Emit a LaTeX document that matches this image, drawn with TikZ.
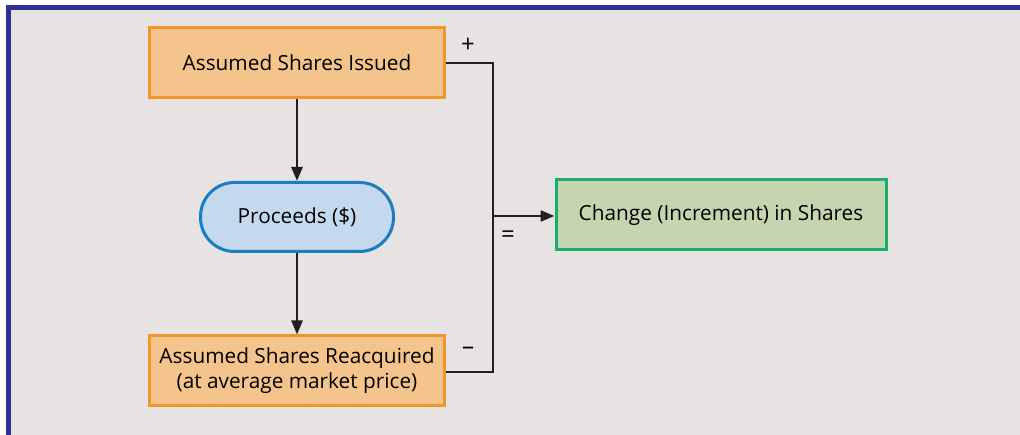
\documentclass[tikz,border=0pt]{standalone}
\usepackage{fontspec}
\setmainfont{Open Sans}
\usetikzlibrary{arrows.meta}
\usetikzlibrary{positioning}
\definecolor{framenavy}{RGB}{46,49,146}
\definecolor{paper}{RGB}{232,227,227}
\definecolor{orangefill}{RGB}{244,196,140}
\definecolor{orangeline}{RGB}{240,150,42}
\definecolor{bluefill}{RGB}{197,217,238}
\definecolor{blueline}{RGB}{26,126,196}
\definecolor{greenfill}{RGB}{197,213,176}
\definecolor{greenline}{RGB}{26,174,110}
\definecolor{wire}{RGB}{35,31,32}

\begin{document}
\begin{tikzpicture}[x=1pt,y=-1pt,
  font=\fontsize{20.8}{24}\selectfont,
  sharebox/.style={draw=orangeline,fill=orangefill,line width=3pt,minimum width=295pt,minimum height=70pt,align=center,inner sep=0pt},
  cashbox/.style={draw=blueline,fill=bluefill,line width=3pt,rounded corners=34pt,minimum width=193pt,minimum height=69pt,inner sep=0pt},
  resultbox/.style={draw=greenline,fill=greenfill,line width=3pt,minimum width=330pt,minimum height=70pt,inner sep=0pt},
  wire/.style={draw=wire,line width=2.6pt},
  flow/.style={wire,-{Triangle[length=14pt,width=11pt]}},
  sign/.style={inner sep=0pt,font=\fontsize{24}{26}\selectfont}]
\useasboundingbox (0,0) rectangle (1020,435);
\fill[white] (0,0) rectangle (1020,435);
\fill[paper] (8,8) rectangle (1020,435);
\draw[framenavy,line width=5pt] (8.5,435) -- (8.5,7.5) -- (1020,7.5);

\node[sharebox] (issued) at (297,63) {Assumed Shares Issued};
\node[cashbox] (proceeds) at (297,217) {Proceeds (\$)};
\node[sharebox,align=center] (reacq) at (297,371) {Assumed Shares Reacquired\\[1pt](at average market price)};
\node[resultbox] (change) at (721,215) {Change (Increment) in Shares};

\coordinate (topbend) at (493,63);
\coordinate (lowbend) at (493,372);
\coordinate (join) at (493,216);

\draw[flow] (issued) -- (proceeds);
\draw[flow] (proceeds) -- (reacq);
\draw[wire] (issued.east) -- (topbend) -- (lowbend) -- (reacq.east |- lowbend);
\draw[flow] (join) -- (change.west |- join);

\node[sign] (plus) at (468,45) {+};
\node[sign] (minus) at (468,351) {--};
\node[sign] (equals) at (508,237) {=};
\end{tikzpicture}
\end{document}
